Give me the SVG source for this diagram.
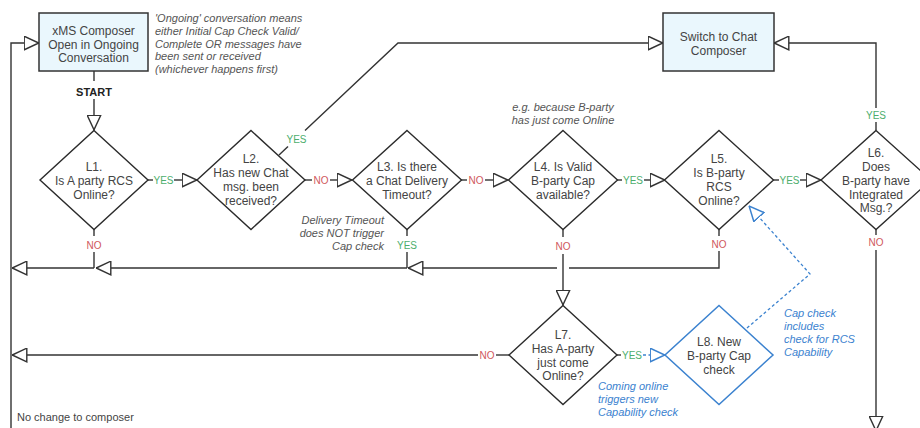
<svg xmlns="http://www.w3.org/2000/svg" width="920" height="428" viewBox="0 0 920 428">
<defs>
<style>
.box{fill:#eaf7fd;stroke:#333;stroke-width:1.5}
.dia{fill:#fff;stroke:#2b2b2b;stroke-width:1.4}
.dia-b{fill:#fff;stroke:#3b82cf;stroke-width:1.5}
.ln{fill:none;stroke:#333;stroke-width:1.4}
.ln-b{fill:none;stroke:#3b82cf;stroke-width:1.3;stroke-dasharray:3 2.5}
.t{font-family:"Liberation Sans",Arial,sans-serif;font-size:12px;fill:#444;text-anchor:middle}
.lab{font-family:"Liberation Sans",Arial,sans-serif;font-size:10px;text-anchor:middle}
.yes{fill:#4dae6d}
.no{fill:#d0585b}
.ann{font-family:"Liberation Sans",Arial,sans-serif;font-size:11px;font-style:italic;fill:#555}
.annb{font-family:"Liberation Sans",Arial,sans-serif;font-size:11px;font-style:italic;fill:#3b82cf}
.start{font-family:"Liberation Sans",Arial,sans-serif;font-size:11px;font-weight:bold;fill:#222;text-anchor:middle}
.note{font-family:"Liberation Sans",Arial,sans-serif;font-size:11px;fill:#444}
</style>
<marker id="arr" viewBox="0 0 16 15" refX="15.5" refY="7.5" markerWidth="16" markerHeight="15" markerUnits="userSpaceOnUse" orient="auto">
<path d="M0.7,0.7 L15.3,7.5 L0.7,14.3 Z" fill="#fff" stroke="#333" stroke-width="1.4"/>
</marker>
<marker id="arrb" viewBox="0 0 16 15" refX="15.5" refY="7.5" markerWidth="16" markerHeight="15" markerUnits="userSpaceOnUse" orient="auto">
<path d="M0.7,0.7 L15.3,7.5 L0.7,14.3 Z" fill="#fff" stroke="#3b82cf" stroke-width="1.5"/>
</marker>
</defs>
<rect width="920" height="428" fill="#fff"/>

<g id="connectors">
<!-- Box1 to L1 -->
<path class="ln" d="M94,71 V81"/>
<path class="ln" d="M94,99 V130" marker-end="url(#arr)"/>
<!-- L1 YES to L2 -->
<path class="ln" d="M148,180 H153"/>
<path class="ln" d="M174,180 H197" marker-end="url(#arr)"/>
<!-- L2 NO to L3 -->
<path class="ln" d="M305,180 H312"/>
<path class="ln" d="M330,180 H352" marker-end="url(#arr)"/>
<!-- L3 NO to L4 -->
<path class="ln" d="M461,180 H467"/>
<path class="ln" d="M485,180 H508" marker-end="url(#arr)"/>
<!-- L4 YES to L5 -->
<path class="ln" d="M617,180 H622"/>
<path class="ln" d="M644,180 H665" marker-end="url(#arr)"/>
<!-- L5 YES to L6 -->
<path class="ln" d="M773,180 H779"/>
<path class="ln" d="M800,180 H821" marker-end="url(#arr)"/>
<!-- L2 YES to Switch -->
<path class="ln" d="M279,155 L288,146.5"/>
<path class="ln" d="M305,130.5 L398,43 H663" marker-end="url(#arr)"/>
<!-- L6 YES to Switch -->
<path class="ln" d="M876,130 V122"/>
<path class="ln" d="M876,108 V43 H774" marker-end="url(#arr)"/>
<!-- L1 NO -->
<path class="ln" d="M94,229 V236"/>
<path class="ln" d="M94,252 V268"/>
<path class="ln" d="M94,268 H12" marker-end="url(#arr)"/>
<!-- L3 YES -->
<path class="ln" d="M407,229 V236"/>
<path class="ln" d="M407,252 V268"/>
<path class="ln" d="M407,268 H96" marker-end="url(#arr)"/>
<!-- L5 NO -->
<path class="ln" d="M719,229 V236"/>
<path class="ln" d="M719,251 V268 H569"/>
<path class="ln" d="M557,268 H408" marker-end="url(#arr)"/>
<!-- L4 NO to L7 -->
<path class="ln" d="M563,229 V237"/>
<path class="ln" d="M563,254 V305" marker-end="url(#arr)"/>
<!-- L7 NO -->
<path class="ln" d="M509,355 H496"/>
<path class="ln" d="M478,355 H12" marker-end="url(#arr)"/>
<!-- L7 YES to L8 -->
<path class="ln" d="M617,355 H621"/>
<path class="ln-b" d="M643,355 H665" marker-end="url(#arrb)"/>
<!-- L8 to L5 -->
<path class="ln-b" d="M747,328 L810,274 L749,206" marker-end="url(#arrb)"/>
<!-- L6 NO -->
<path class="ln" d="M876,229 V235"/>
<path class="ln" d="M876,250 V431" marker-end="url(#arr)"/>
<!-- Left return line -->
<path class="ln" d="M11,428 V43 H39" marker-end="url(#arr)"/>

<text class="start" x="94" y="95.5">START</text>
<text class="lab yes" x="163.5" y="184">YES</text>
<text class="lab no" x="321" y="184">NO</text>
<text class="lab no" x="476" y="184">NO</text>
<text class="lab yes" x="633" y="184">YES</text>
<text class="lab yes" x="789.5" y="184">YES</text>
<text class="lab yes" x="296.5" y="142.5">YES</text>
<text class="lab yes" x="876" y="118.5">YES</text>
<text class="lab no" x="94" y="248.5">NO</text>
<text class="lab yes" x="407" y="248.5">YES</text>
<text class="lab no" x="563" y="249.5">NO</text>
<text class="lab no" x="719" y="247.5">NO</text>
<text class="lab no" x="876" y="245.5">NO</text>
<text class="lab no" x="487" y="359">NO</text>
<text class="lab yes" x="632" y="359">YES</text>
</g>

<g id="start-box">
<rect class="box" x="39" y="13" width="109" height="58"/>
<text class="t" x="93.5" y="34.5">xMS Composer</text>
<text class="t" x="93.5" y="48.5">Open in Ongoing</text>
<text class="t" x="93.5" y="62">Conversation</text>
</g>

<g id="switch-box">
<rect class="box" x="663" y="13" width="111" height="58"/>
<text class="t" x="718.5" y="41">Switch to Chat</text>
<text class="t" x="718.5" y="55">Composer</text>
</g>

<g id="L1">
<polygon class="dia" points="94,130.5 148,180 94,229.5 40,180"/>
<text class="t" x="94" y="171">L1.</text>
<text class="t" x="94" y="185">Is A party RCS</text>
<text class="t" x="94" y="199">Online?</text>
</g>

<g id="L2">
<polygon class="dia" points="251,130.5 305,180 251,229.5 197,180"/>
<text class="t" x="251" y="163">L2.</text>
<text class="t" x="251" y="177">Has new Chat</text>
<text class="t" x="251" y="191">msg. been</text>
<text class="t" x="251" y="205">received?</text>
</g>

<g id="L3">
<polygon class="dia" points="407,130.5 461.5,180 407,229.5 352.5,180"/>
<text class="t" x="407" y="171">L3. Is there</text>
<text class="t" x="407" y="185">a Chat Delivery</text>
<text class="t" x="407" y="199">Timeout?</text>
</g>

<g id="L4">
<polygon class="dia" points="563,130.5 617.5,180 563,229.5 508.5,180"/>
<text class="t" x="563" y="170.5">L4. Is Valid</text>
<text class="t" x="563" y="184.5">B-party Cap</text>
<text class="t" x="563" y="199">available?</text>
</g>

<g id="L5">
<polygon class="dia" points="719,130.5 773.5,180 719,229.5 664.5,180"/>
<text class="t" x="719" y="163">L5.</text>
<text class="t" x="719" y="177">Is B-party</text>
<text class="t" x="719" y="191">RCS</text>
<text class="t" x="719" y="205">Online?</text>
</g>

<g id="L6">
<polygon class="dia" points="876,130.5 931,180 876,229.5 821,180"/>
<text class="t" x="876" y="156.5">L6.</text>
<text class="t" x="876" y="170.5">Does</text>
<text class="t" x="876" y="184.5">B-party have</text>
<text class="t" x="876" y="198.5">Integrated</text>
<text class="t" x="876" y="212">Msg.?</text>
</g>

<g id="L7">
<polygon class="dia" points="563,305.5 617,355 563,404.5 509,355"/>
<text class="t" x="563" y="339">L7.</text>
<text class="t" x="563" y="353">Has A-party</text>
<text class="t" x="563" y="366.5">just come</text>
<text class="t" x="563" y="380">Online?</text>
</g>

<g id="L8">
<polygon class="dia-b" points="719,305.5 773,355 719,404.5 665,355"/>
<text class="t" x="719" y="346">L8. New</text>
<text class="t" x="719" y="360">B-party Cap</text>
<text class="t" x="719" y="374">check</text>
</g>

<g id="annotations">
<text class="ann" x="155" y="22">'Ongoing' conversation means</text>
<text class="ann" x="155" y="34.8">either Initial Cap Check Valid/</text>
<text class="ann" x="155" y="47.5">Complete OR messages have</text>
<text class="ann" x="155" y="60.3">been sent or received</text>
<text class="ann" x="155" y="73">(whichever happens first)</text>
<text class="ann" x="563" y="111" text-anchor="middle">e.g. because B-party</text>
<text class="ann" x="563" y="123.5" text-anchor="middle">has just come Online</text>
<text class="ann" x="384" y="224" text-anchor="end">Delivery Timeout</text>
<text class="ann" x="384" y="237" text-anchor="end">does NOT trigger</text>
<text class="ann" x="384" y="250" text-anchor="end">Cap check</text>
<text class="annb" x="784" y="317">Cap check</text>
<text class="annb" x="784" y="330">includes</text>
<text class="annb" x="784" y="343">check for RCS</text>
<text class="annb" x="784" y="356">Capability</text>
<text class="annb" x="598" y="390">Coming online</text>
<text class="annb" x="598" y="403">triggers new</text>
<text class="annb" x="598" y="416">Capability check</text>
<text class="note" x="17" y="421">No change to composer</text>
</g>
</svg>
